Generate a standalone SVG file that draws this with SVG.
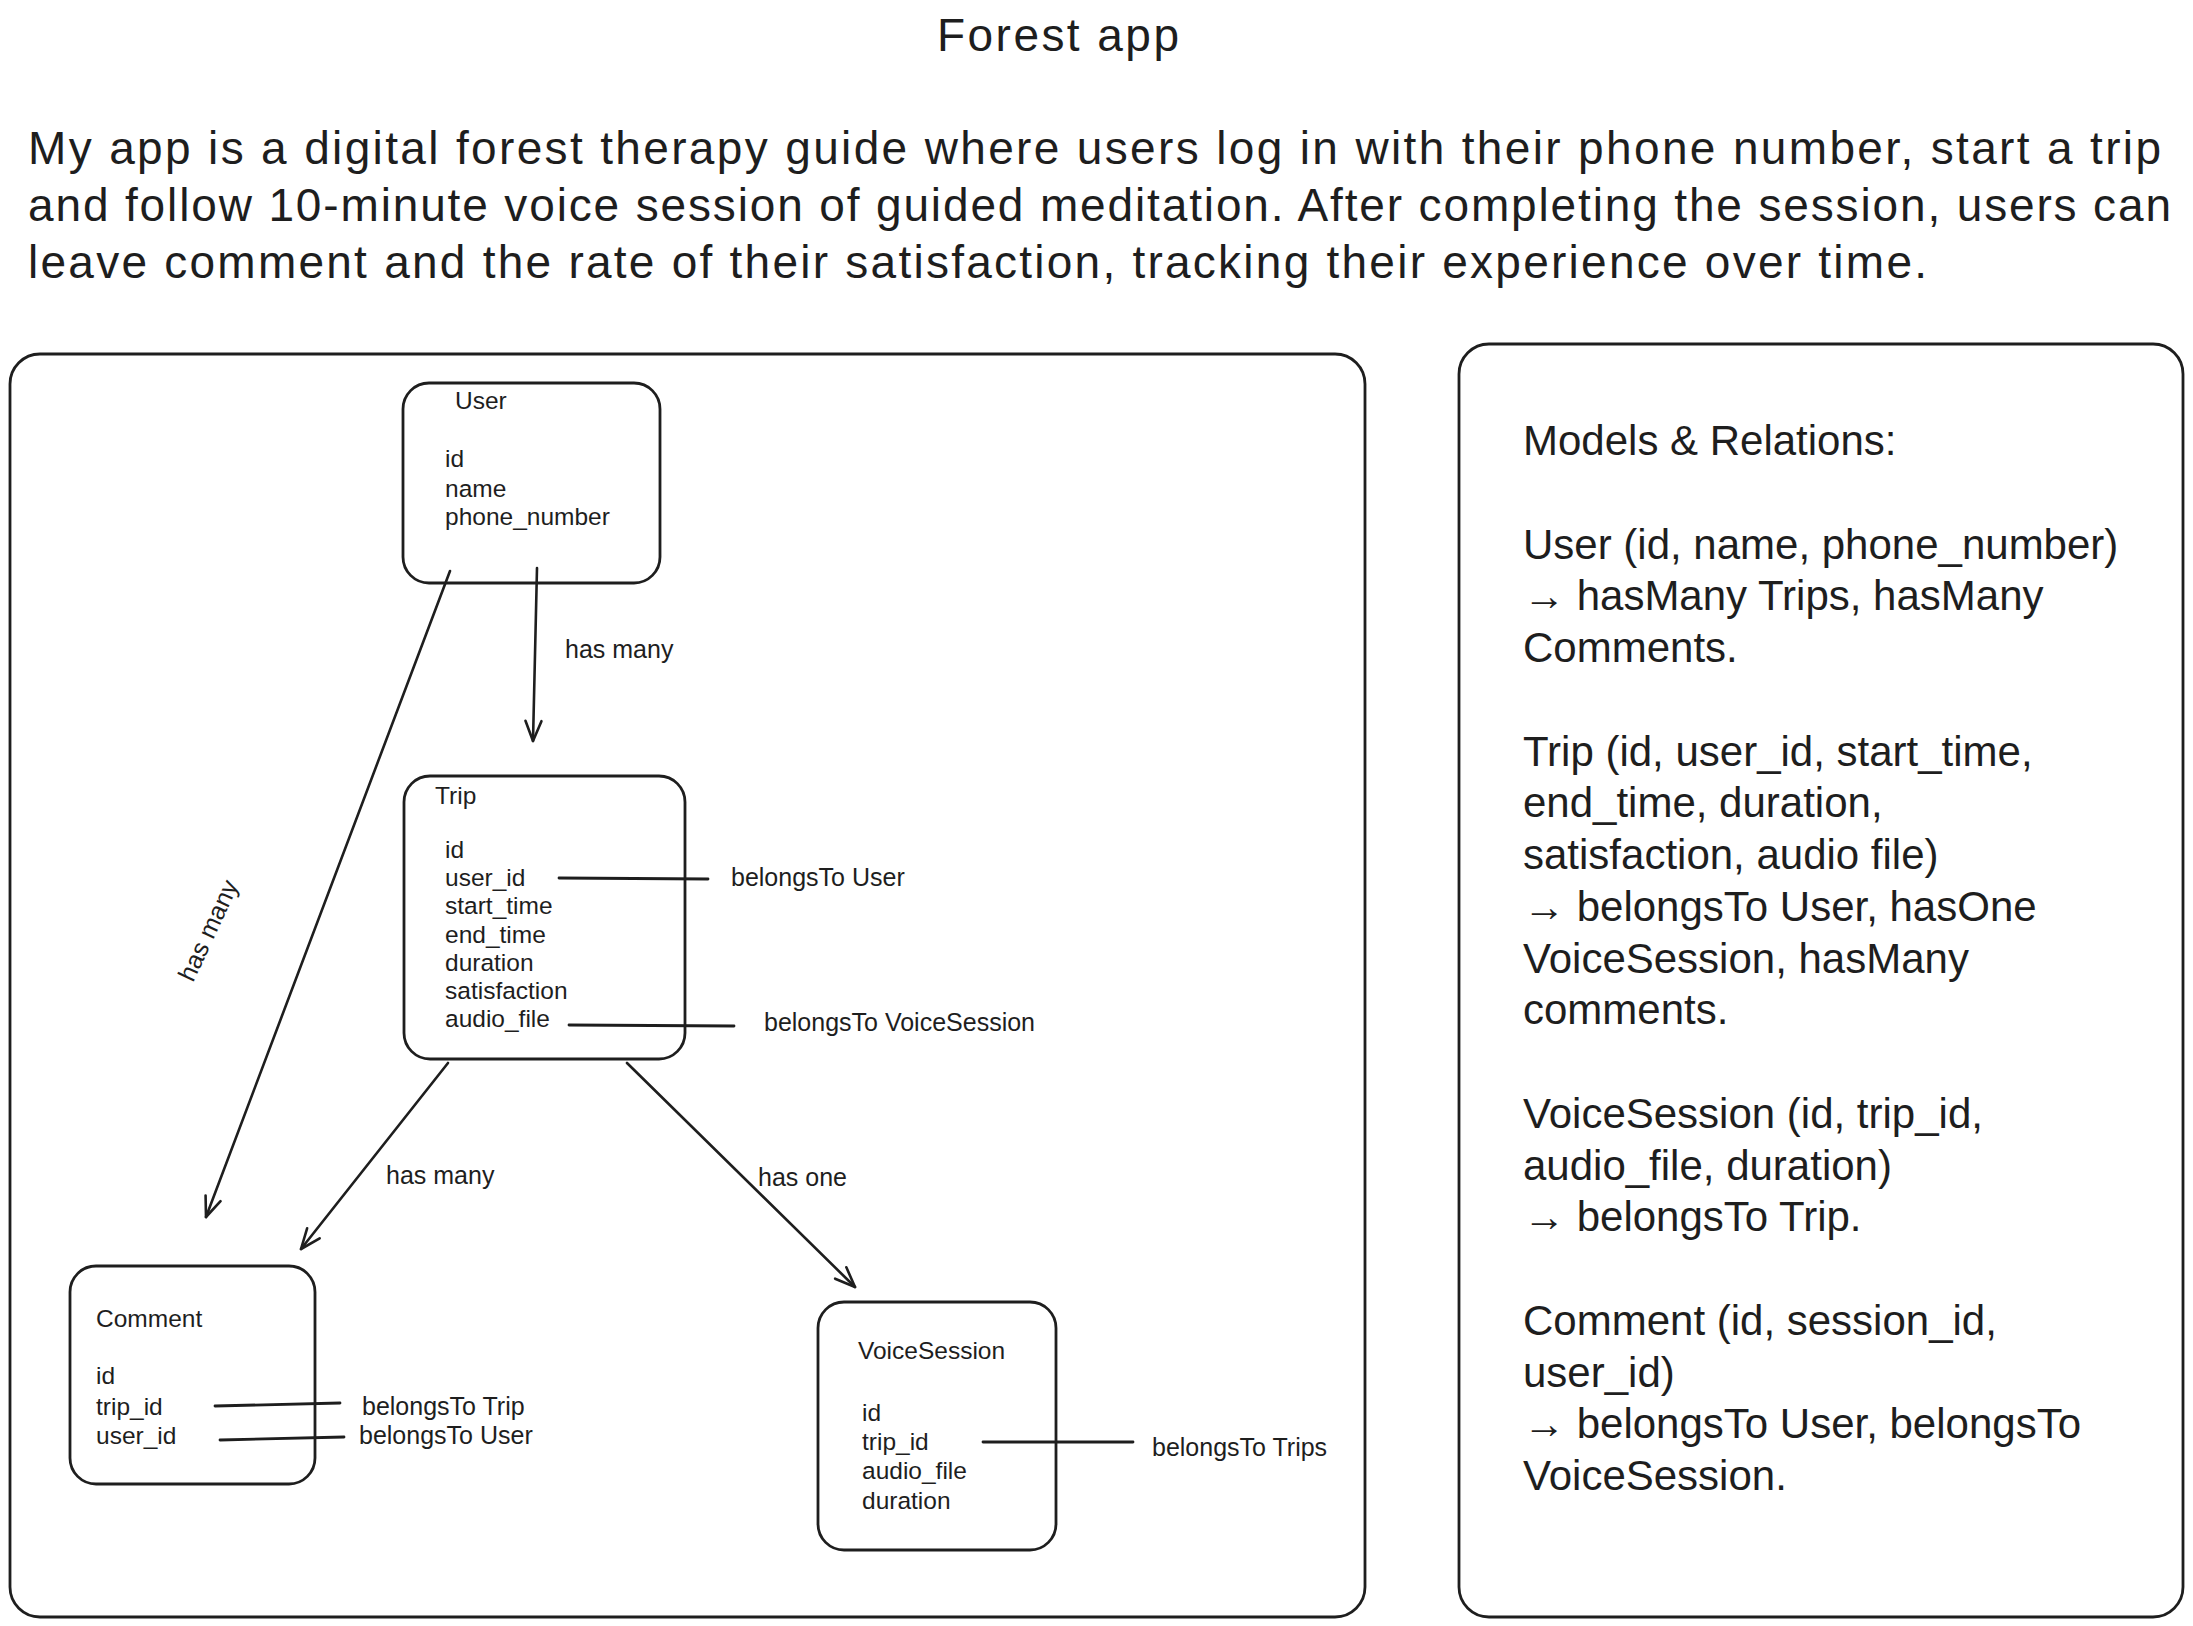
<svg xmlns="http://www.w3.org/2000/svg" width="2193" height="1626" viewBox="0 0 2193 1626">
<defs>
<style>
text{font-family:"Liberation Sans",Arial,sans-serif;fill:#1e1e1e}
.big{font-size:46px}
.side{font-size:42px}
.f{font-size:24.5px}
.lbl{font-size:25px}
.box{fill:none;stroke:#1e1e1e;stroke-width:2.8}
.ln{fill:none;stroke:#1e1e1e;stroke-width:2.8;stroke-linecap:round}
.arr{fill:none;stroke:#1e1e1e;stroke-width:2.6;stroke-linecap:round;marker-end:url(#ah)}
</style>
<marker id="ah" viewBox="0 0 24 24" refX="22" refY="12" markerWidth="24" markerHeight="24" orient="auto" markerUnits="userSpaceOnUse">
<path d="M2,4 L22,12 L2,20" fill="none" stroke="#1e1e1e" stroke-width="2.6" stroke-linecap="round" stroke-linejoin="round"/>
</marker>
</defs>
<rect width="2193" height="1626" fill="#ffffff"/>

<g id="header">
<text class="big" x="1058" y="51" text-anchor="middle" textLength="242">Forest app</text>
<text class="big" x="28" y="164" textLength="2133">My app is a digital forest therapy guide where users log in with their phone number, start a trip</text>
<text class="big" x="28" y="221" textLength="2143">and follow 10-minute voice session of guided meditation. After completing the session, users can</text>
<text class="big" x="28" y="278" textLength="1899">leave comment and the rate of their satisfaction, tracking their experience over time.</text>
</g>

<g id="diagram-frame">
<rect class="box" x="10" y="354" width="1355" height="1263" rx="30"/>
</g>

<g id="models-panel">
<rect class="box" x="1459" y="344" width="724" height="1273" rx="30"/>
<text class="side" x="1523" y="455">Models &amp; Relations:</text>
<text class="side" x="1523" y="559">User (id, name, phone_number)</text>
<text class="side" x="1523" y="610">→ hasMany Trips, hasMany</text>
<text class="side" x="1523" y="662">Comments.</text>
<text class="side" x="1523" y="766">Trip (id, user_id, start_time,</text>
<text class="side" x="1523" y="817">end_time, duration,</text>
<text class="side" x="1523" y="869">satisfaction, audio file)</text>
<text class="side" x="1523" y="921">→ belongsTo User, hasOne</text>
<text class="side" x="1523" y="973">VoiceSession, hasMany</text>
<text class="side" x="1523" y="1024">comments.</text>
<text class="side" x="1523" y="1128">VoiceSession (id, trip_id,</text>
<text class="side" x="1523" y="1180">audio_file, duration)</text>
<text class="side" x="1523" y="1231">→ belongsTo Trip.</text>
<text class="side" x="1523" y="1335">Comment (id, session_id,</text>
<text class="side" x="1523" y="1387">user_id)</text>
<text class="side" x="1523" y="1438">→ belongsTo User, belongsTo</text>
<text class="side" x="1523" y="1490">VoiceSession.</text>
</g>

<g id="node-user">
<rect class="box" x="403" y="383" width="257" height="200" rx="26"/>
<text class="f" x="455" y="409">User</text>
<text class="f" x="445" y="467">id</text>
<text class="f" x="445" y="497">name</text>
<text class="f" x="445" y="525">phone_number</text>
</g>

<g id="node-trip">
<rect class="box" x="404" y="776" width="281" height="283" rx="26"/>
<text class="f" x="435" y="804">Trip</text>
<text class="f" x="445" y="858">id</text>
<text class="f" x="445" y="886">user_id</text>
<text class="f" x="445" y="914">start_time</text>
<text class="f" x="445" y="943">end_time</text>
<text class="f" x="445" y="971">duration</text>
<text class="f" x="445" y="999">satisfaction</text>
<text class="f" x="445" y="1027">audio_file</text>
</g>

<g id="node-comment">
<rect class="box" x="70" y="1266" width="245" height="218" rx="26"/>
<text class="f" x="96" y="1327">Comment</text>
<text class="f" x="96" y="1384">id</text>
<text class="f" x="96" y="1415">trip_id</text>
<text class="f" x="96" y="1444">user_id</text>
</g>

<g id="node-voicesession">
<rect class="box" x="818" y="1302" width="238" height="248" rx="26"/>
<text class="f" x="858" y="1359">VoiceSession</text>
<text class="f" x="862" y="1421">id</text>
<text class="f" x="862" y="1450">trip_id</text>
<text class="f" x="862" y="1479">audio_file</text>
<text class="f" x="862" y="1509">duration</text>
</g>

<g id="connectors">
<path class="arr" d="M537,568 L533,741"/>
<path class="arr" d="M450,571 L206,1217"/>
<path class="arr" d="M448,1063 L301,1249"/>
<path class="arr" d="M627,1063 L855,1287"/>
<path class="ln" d="M559,878 L708,879"/>
<path class="ln" d="M569,1025 L734,1026"/>
<path class="ln" d="M215,1406 L340,1403"/>
<path class="ln" d="M220,1440 L344,1437"/>
<path class="ln" d="M983,1442 L1133,1442"/>
<text class="lbl" x="565" y="658">has many</text>
<text class="lbl" transform="translate(216,934) rotate(-65)" text-anchor="middle">has many</text>
<text class="lbl" x="386" y="1184">has many</text>
<text class="lbl" x="758" y="1186">has one</text>
<text class="lbl" x="731" y="886">belongsTo User</text>
<text class="lbl" x="764" y="1031">belongsTo VoiceSession</text>
<text class="lbl" x="362" y="1415">belongsTo Trip</text>
<text class="lbl" x="359" y="1444">belongsTo User</text>
<text class="lbl" x="1152" y="1456">belongsTo Trips</text>
</g>
</svg>
